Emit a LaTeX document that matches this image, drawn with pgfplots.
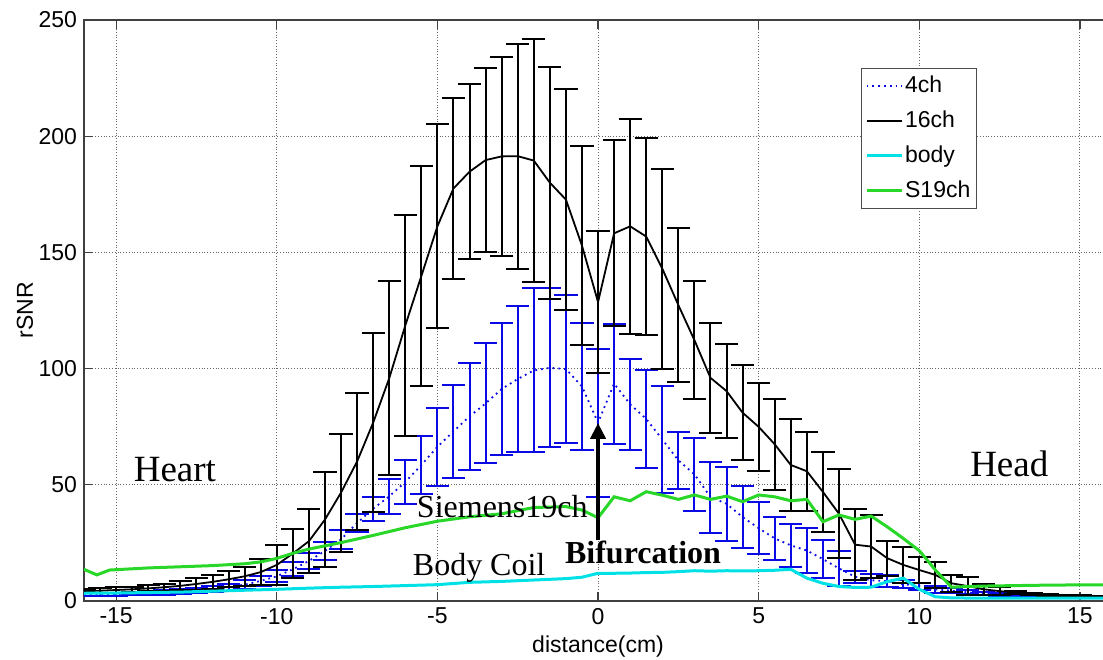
\documentclass[border=0pt]{standalone}
\usepackage{fontspec}
\setmainfont{Liberation Sans}
\newfontfamily\tnr{Liberation Serif}
\usepackage{pgfplots}
\pgfplotsset{compat=1.18}
\usepackage{pgfplotstable}
\usetikzlibrary{arrows.meta}

\definecolor{cbody}{RGB}{0,225,230}
\definecolor{cs19}{RGB}{40,215,40}
\definecolor{cblue}{RGB}{10,10,230}

% 4ch: x, mean, half error bar
\pgfplotstableread{
x y e
-16 2.6 0.6
-15.5 2.7 0.6
-15 2.9 0.7
-14.5 3.1 0.7
-14 3.3 0.8
-13.5 3.6 0.9
-13 4.0 1.0
-12.5 4.4 1.1
-12 5.0 1.3
-11.5 5.9 1.5
-11 7.0 1.8
-10.5 8.6 2.0
-10 10.6 2.6
-9.5 13.6 3.0
-9 17.2 3.3
-8.5 21.5 3.7
-8 26.5 4.0
-7.5 33.5 4.0
-7 39.7 5.2
-6.5 45.0 7.4
-6 51.2 9.5
-5.5 58.5 12.5
-5 66.3 16.9
-4.5 73.0 19.9
-4 79.4 23.1
-3.5 85.0 25.8
-3 91.2 28.5
-2.5 95.5 31.3
-2 99.2 35.3
-1.5 100.3 34.2
-1 99.8 32.0
-0.5 92.3 27.4
0 76.7 31.9
0.5 93.5 25.8
1 84.6 19.7
1.5 78.3 21.0
2 69.5 23.0
2.5 60.5 12.4
3 54.5 15.8
3.5 44.7 15.3
4 41.8 16.0
4.5 36.1 13.5
5 31.3 11.2
5.5 26.9 9.3
6 23.9 9.2
6.5 21.7 9.8
7 18.0 8.2
7.5 14.0 7.6
8 10.4 2.6
8.5 8.9 2.7
9 8.5 2.7
9.5 7.2 1.8
10 6.4 1.5
10.5 5.0 1.4
11 4.4 1.1
11.5 3.7 0.9
12 3.1 0.7
12.5 2.8 0.6
13 2.5 0.5
13.5 2.3 0.4
14 2.2 0.4
14.5 2.1 0.3
15 2.0 0.3
15.5 1.9 0.3
16 1.8 0.3
}\fourch

% 16ch
\pgfplotstableread{
x y e
-16 4.2 1.0
-15.5 4.4 1.0
-15 4.7 1.1
-14.5 5.0 1.2
-14 5.4 1.3
-13.5 5.9 1.6
-13 6.5 2.0
-12.5 7.3 2.5
-12 8.2 3.0
-11.5 9.3 3.5
-11 10.6 4.1
-10.5 12.4 5.5
-10 15.5 8.5
-9.5 20.4 10.4
-9 25.7 13.8
-8.5 35.0 20.3
-8 46.6 25.4
-7.5 60.0 29.5
-7 76.7 38.6
-6.5 95.8 41.7
-6 118.5 47.7
-5.5 139.8 47.4
-5 161.2 43.9
-4.5 177.5 38.8
-4 184.7 37.6
-3.5 189.7 39.6
-3 191.3 42.9
-2.5 191.4 48.4
-2 189.5 52.3
-1.5 180.0 49.9
-1 172.7 47.6
-0.5 152.9 42.9
0 128.6 30.5
0.5 158.2 40.0
1 161.2 46.2
1.5 156.8 42.5
2 143.0 43.0
2.5 127.3 33.1
3 112.2 25.3
3.5 96.0 23.6
4 90.3 20.1
4.5 81.0 20.4
5 74.9 19.0
5.5 67.4 19.7
6 58.5 20.0
6.5 55.8 17.0
7 46.9 17.4
7.5 37.5 19.2
8 24.2 15.2
8.5 23.4 13.5
9 18.4 7.5
9.5 15.5 7.6
10 13.3 5.5
10.5 11.2 5.7
11 7.6 3.6
11.5 6.4 4.0
12 5.0 2.3
12.5 4.2 1.7
13 3.6 0.6
13.5 3.0 0.5
14 2.6 0.4
14.5 2.3 0.4
15 2.1 0.3
15.5 2.0 0.3
16 1.9 0.3
}\sixteench

% body coil
\pgfplotstableread{
x y
-16 3.3
-15 3.4
-14 3.6
-13 3.8
-12 4.2
-11 4.6
-10 5.0
-9 5.5
-8 5.9
-7 6.2
-6 6.6
-5 7.0
-4 8.0
-3 8.4
-2 9.0
-1 9.6
-0.5 10.2
0 11.9
0.5 11.9
1 12.0
1.5 12.2
2 12.3
2.5 12.6
3 13.0
3.5 12.8
4 13.0
4.5 12.9
5 13.0
5.5 13.2
6 13.6
6.5 9.8
7 7.6
7.5 6.2
8 5.8
8.5 5.9
9 8.3
9.5 9.8
10 5.0
10.5 1.8
11 1.3
12 1.2
13 1.2
14 1.2
15 1.2
16 1.2
}\body

% Siemens 19ch
\pgfplotstableread{
x y
-16 13.6
-15.6 11.2
-15.2 13.3
-14 14.2
-13 14.7
-12 15.2
-11 16.0
-10.5 16.8
-10 18.3
-9.5 20.5
-9 22.3
-8 25.1
-7 28.2
-6 31.5
-5 34.3
-4 36.2
-3 37.5
-2 40.2
-1 40.6
-0.5 39.1
0 35.8
0.5 44.8
1 43.1
1.5 47.0
2 45.5
2.5 43.7
3 45.6
3.5 43.7
4 45.1
4.5 42.7
5 45.6
5.5 44.8
6 43.1
6.5 43.7
7 34.1
7.5 37.0
8 35.1
8.5 36.5
9 31.9
9.5 26.9
10 21.6
10.5 13.3
11 5.9
11.5 6.2
12 6.4
13 6.6
14 6.8
15 6.9
16 6.9
}\sNineteen

\begin{document}
\begin{tikzpicture}
\begin{axis}[
  scale only axis, width=514.1pt, height=290.5pt,
  xmin=-16, xmax=16, ymin=0, ymax=250,
  xtick={-15,-10,...,15}, ytick={0,50,...,250},
  grid=major, major grid style={densely dotted, black!60, line width=0.5pt},
  tick align=inside, major tick length=4.5pt,
  axis line style={black!75, line width=0.6pt},
  tick style={black!75, line width=0.6pt},
  ticklabel style={font=\fontsize{11.5}{13}\selectfont},
  /pgf/number format/assume math mode=true,
  no markers,
  legend cell align=left,
  legend image code/.code={\draw[#1] (0pt,0pt) -- (17.5pt,0pt);},
  legend style={at={(axis cs:8.17,229.5)}, anchor=north west,
    draw=black!70, fill=white, line width=0.6pt,
    font=\fontsize{11.5}{13}\selectfont, inner sep=2pt, row sep=4pt,
    nodes={inner sep=1pt, text height=9pt, text depth=2.5pt}},
]
\addplot[cblue, dotted, line width=0.9pt,
  error bars/.cd, y dir=both, y explicit,
  error bar style={solid, cblue, line width=1pt},
  error mark options={solid, cblue, rotate=90, mark size=5.8pt, line width=1pt}]
  table[x=x, y=y, y error=e] {\fourch};
\addlegendentry{4ch}
\addplot[black, line width=0.9pt,
  error bars/.cd, y dir=both, y explicit,
  error bar style={solid, black, line width=1pt},
  error mark options={solid, black, rotate=90, mark size=5.8pt, line width=1pt}]
  table[x=x, y=y, y error=e] {\sixteench};
\addlegendentry{16ch}
\addplot[cbody, line width=1.5pt] table[x=x, y=y] {\body};
\addlegendentry{body}
\addplot[cs19, line width=1.5pt] table[x=x, y=y] {\sNineteen};
\addlegendentry{S19ch}

\node[font=\tnr\fontsize{18.5}{20}\selectfont, anchor=base] at (axis cs:-13.17,51.3) {Heart};
\node[font=\tnr\fontsize{18.5}{20}\selectfont, anchor=base] at (axis cs:12.8,53.4) {Head};
\node[font=\tnr\fontsize{16}{18}\selectfont, anchor=base] at (axis cs:-2.98,36) {Siemens19ch};
\node[font=\tnr\fontsize{16}{18}\selectfont, anchor=base] at (axis cs:-3.7,10.9) {Body Coil};
\node[font=\tnr\bfseries\fontsize{16}{18}\selectfont, anchor=base] at (axis cs:1.4,16.2) {Bifurcation};
\draw[-{Triangle[width=7.5pt,length=8pt]}, line width=2pt] (axis cs:0,26.2) -- (axis cs:0,76.6);
\end{axis}
\node[font=\fontsize{11.5}{13}\selectfont] at ([yshift=-23pt]current axis.south) {distance(cm)};
\node[font=\fontsize{11.5}{13}\selectfont, rotate=90] at ([xshift=-29.5pt]current axis.west) {rSNR};
\pgfresetboundingbox
\path ([xshift=-42pt,yshift=-29.5pt]current axis.south west) rectangle ([xshift=-4.55pt,yshift=10pt]current axis.north east);
\end{tikzpicture}
\end{document}
